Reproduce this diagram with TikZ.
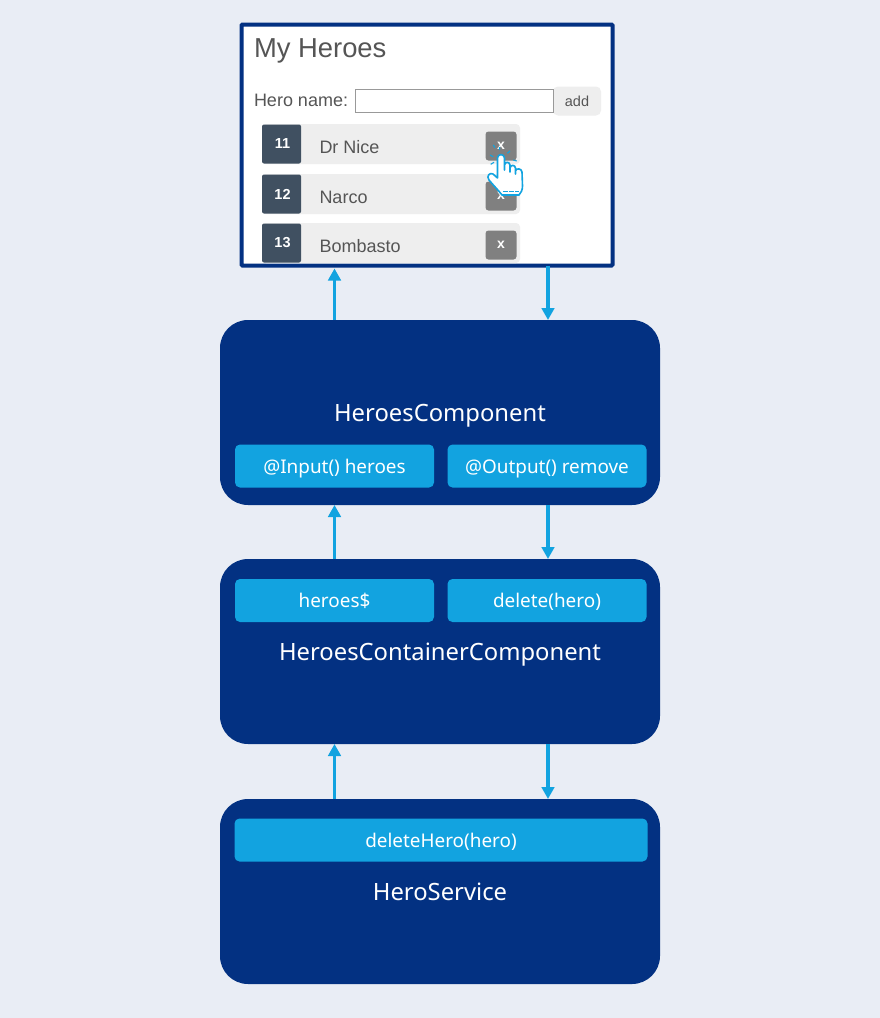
\documentclass[tikz,border=0pt]{standalone}
\usepackage{fontspec}
\usetikzlibrary{arrows.meta}
\setmainfont{Noto Sans}
\newfontfamily\uifont{Liberation Sans}
\definecolor{pagebg}{HTML}{E9EDF5}
\definecolor{navy}{HTML}{033182}
\definecolor{skyblue}{HTML}{12A3E0}
\definecolor{rowgrey}{HTML}{EEEEEE}
\definecolor{badge}{HTML}{405061}
\definecolor{uitext}{HTML}{555555}
\definecolor{xgrey}{HTML}{808080}
\newcommand{\fs}[1]{\fontsize{#1}{#1}\selectfont}
\begin{document}
\begin{tikzpicture}[x=1pt,y=-1pt]
        \tikzstyle{every node}=[inner sep=0pt, outer sep=0pt]
        \tikzstyle{layer}=[fill=navy, rounded corners=28pt, minimum width=440pt, minimum height=185pt]
        \tikzstyle{member}=[fill=skyblue, rounded corners=5pt, minimum width=199pt, minimum height=43pt, text=white, font=\fs{18.9}, text height=14pt, text depth=0pt]
        \tikzstyle{title}=[text=white, font=\fs{23.8}, text height=17.5pt, text depth=0pt]
        \tikzstyle{flow}=[draw=skyblue, line width=3.5pt, -{Triangle[length=12pt,width=12.5pt]}]
        \tikzstyle{row}=[fill=rowgrey, rounded corners=4pt, minimum width=258pt, minimum height=40pt]
        \tikzstyle{idbox}=[fill=badge, rounded corners=2pt, minimum width=39pt, minimum height=39pt, text=white, font=\uifont\bfseries\fs{14.5}]
        \tikzstyle{xbtn}=[fill=xgrey, rounded corners=3pt, minimum width=31pt, minimum height=29pt, text=white, font=\uifont\bfseries\fs{14}]
        \tikzstyle{rowtext}=[anchor=west, text=uitext, font=\uifont\fs{18}]
        \useasboundingbox (0,0) rectangle (880,1018);
        \fill[pagebg] (0,0) rectangle (880,1018);
        % browser window
        \node[draw=navy, line width=4pt, fill=white, rounded corners=1pt, minimum width=371pt, minimum height=241pt] (window) at (427,145) {};
        \node[anchor=west, text=uitext, font=\uifont\fs{27.4}] (heading) at (254,51) {My Heroes};
        \node[anchor=west, text=uitext, font=\uifont\fs{18}] (nameLabel) at (254,100) {Hero name:};
        \node[fill=rowgrey, rounded corners=5pt, minimum width=48pt, minimum height=29pt, text=uitext, font=\uifont\fs{14.5}] (addBtn) at (577,101) {add};
        \node[draw=black!40, fill=white, line width=0.8pt, minimum width=198pt, minimum height=23pt] (nameField) at (454,101) {};
        % hero rows
        \foreach \y/\id/\who/\nm in {144/11/Dr Nice/niceRow, 194/12/Narco/narcoRow, 243/13/Bombasto/bombastoRow} {
            \node[row] (\nm) at (391,\y) {};
            \node[idbox] (\nm Id) at (281.5,\y) {\hspace{2pt}\id};
            \node[rowtext] (\nm Text) at (319.5,\y+3.5) {\who};
            \node[xbtn] (\nm Del) at (501,\y+2) {x};
        }
        % pointer hand
        \draw[skyblue, line width=1.6pt, fill=white, line join=round]
            (497.5,175) -- (497.5,158) .. controls (497.5,153.5) and (504.5,153.5) .. (504.5,158)
            -- (504.5,170) -- (504.5,165) .. controls (505,161.5) and (509.5,161.5) .. (510,165)
            -- (510,172) -- (510,168) .. controls (510.5,164.5) and (515,164.5) .. (515.5,168)
            -- (515.5,174) -- (515.5,171) .. controls (516,168) and (521.5,168) .. (522,172)
            -- (522.5,186) .. controls (522.5,190) and (521,193) .. (519,195)
            -- (502,195) .. controls (499,191) and (494,186) .. (489,180)
            .. controls (486,176) and (490,172) .. (493,174) -- (497.5,178) -- cycle;
        \draw[skyblue, line width=0.9pt, dash pattern=on 5pt off 1pt] (503,191.5) -- (519,191.5);
        \draw[skyblue, line width=1.1pt]
            (493.3,145) -- (495,147.7) (510,151) -- (507.3,153.3) (490.7,164.3) -- (494,162.3)
            (490,155) -- (493.3,156.7) (513.3,160) -- (516.7,161) (499.5,147) -- (499.5,150);
        % layers
        \node[layer] (heroesComp) at (440,412.5) {};
        \node[title] (heroesTitle) at (440,413) {HeroesComponent};
        \node[member] (inputBox) at (334.5,466) {@Input() heroes};
        \node[member] (outputBox) at (547,466) {@Output() remove};
        \node[layer] (containerComp) at (440,651.5) {};
        \node[title] (containerTitle) at (440,652) {HeroesContainerComponent};
        \node[member] (heroesObs) at (334.5,600.5) {heroes\$};
        \node[member] (deleteBox) at (547,600.5) {delete(hero)};
        \node[layer] (heroService) at (440,891.5) {};
        \node[title] (serviceTitle) at (440,892) {HeroService};
        \node[member, minimum width=413pt] (deleteHero) at (441,840) {deleteHero(hero)};
        % data up, events down
        \coordinate (downLane) at (548,0);
        \draw[flow, shorten >=3pt] (inputBox |- heroesComp.north) -- (inputBox |- window.south);
        \draw[flow] (downLane |- window.south) -- (downLane |- heroesComp.north);
        \draw[flow] (inputBox |- containerComp.north) -- (inputBox |- heroesComp.south);
        \draw[flow] (downLane |- heroesComp.south) -- (downLane |- containerComp.north);
        \draw[flow] (inputBox |- heroService.north) -- (inputBox |- containerComp.south);
        \draw[flow] (downLane |- containerComp.south) -- (downLane |- heroService.north);
    \end{tikzpicture}
\end{document}
